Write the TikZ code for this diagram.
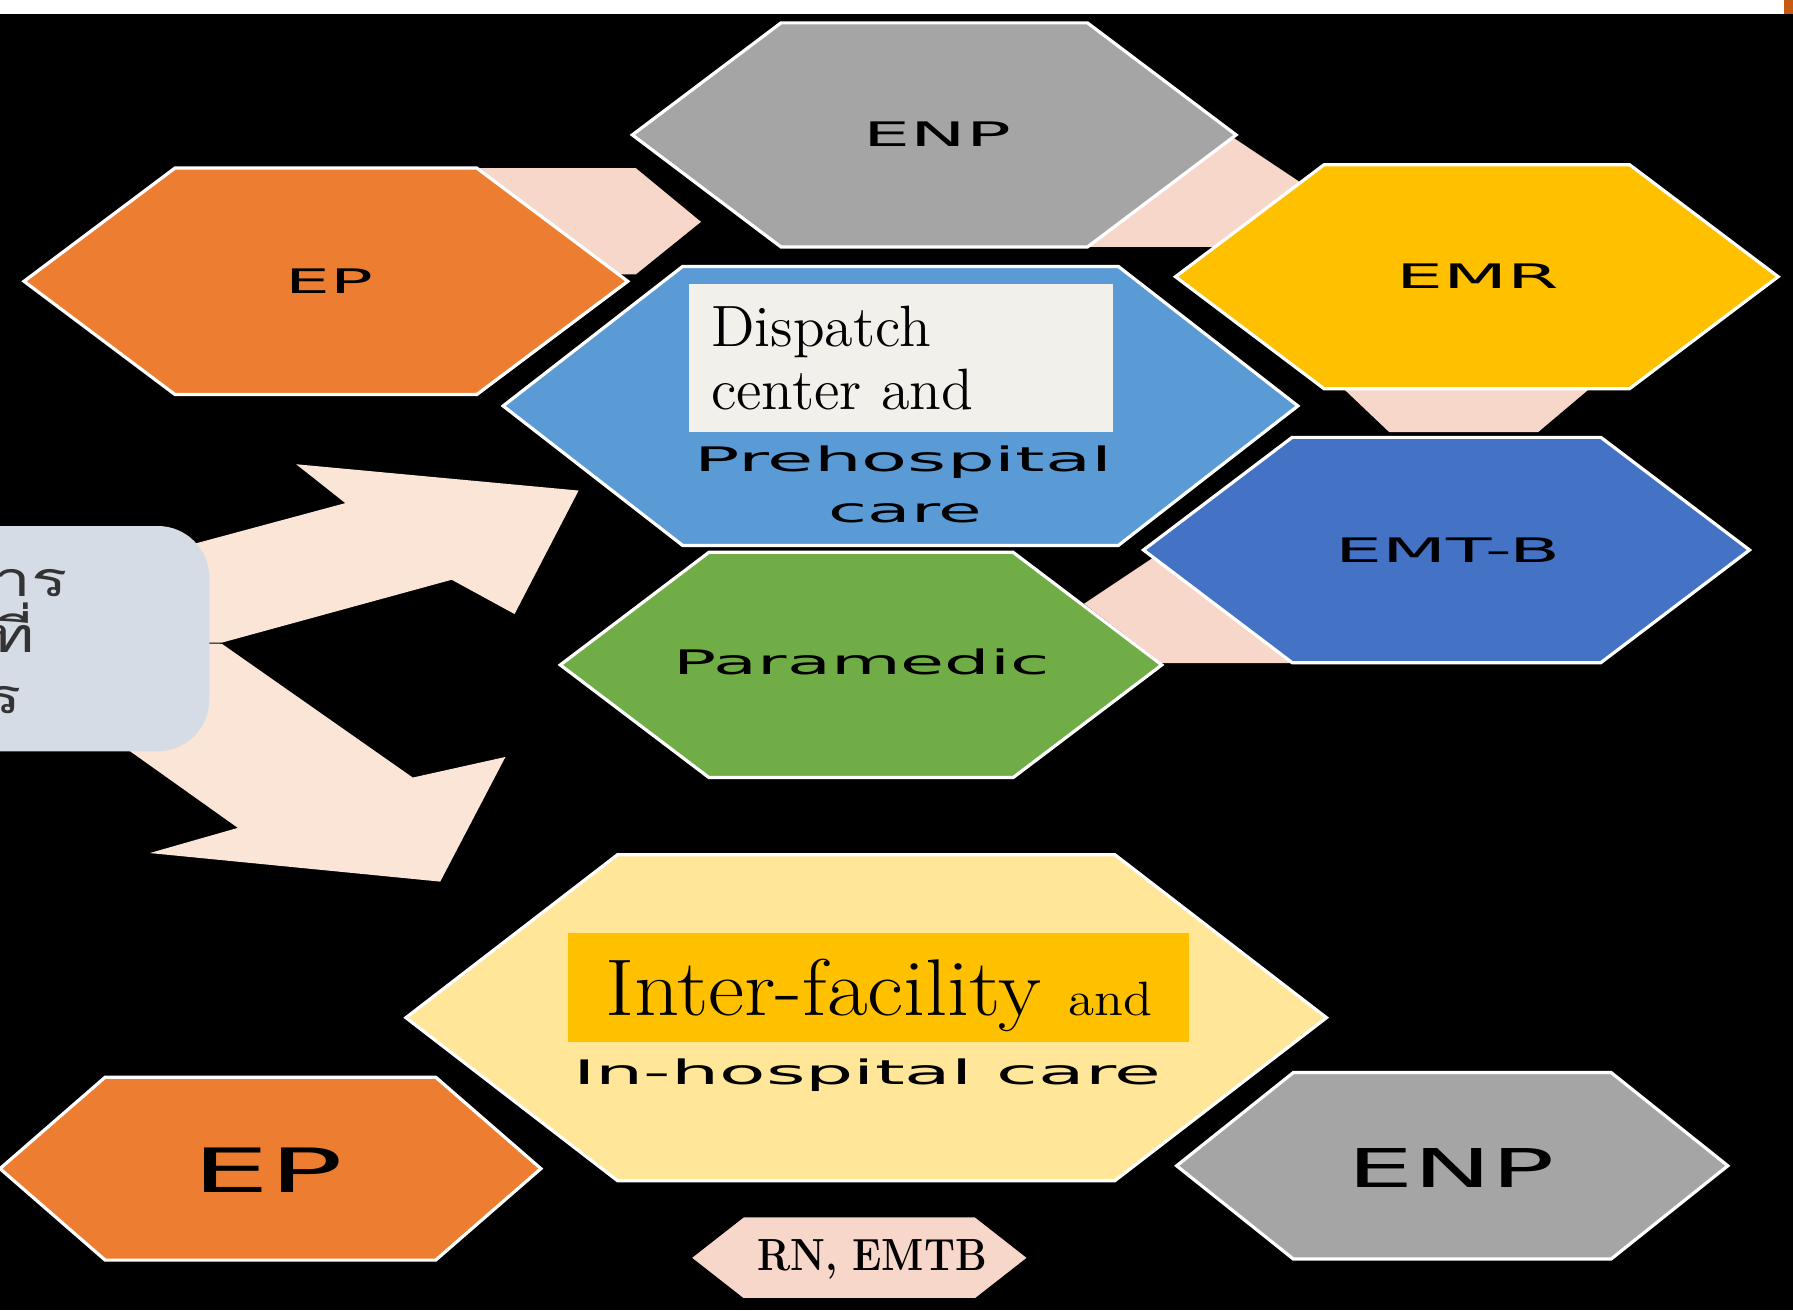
\documentclass[tikz,border=0pt]{standalone}
\usepackage{fontspec}
\usepackage{graphicx}
\newfontfamily\hexfont{DejaVu Sans}
\newfontfamily\thaifont[Script=Thai]{Loma}
\definecolor{hexgray}{HTML}{A5A5A5}
\definecolor{hexorange}{HTML}{ED7D31}
\definecolor{hexgold}{HTML}{FFC000}
\definecolor{hexsky}{HTML}{5B9BD5}
\definecolor{hexblue}{HTML}{4472C4}
\definecolor{hexgreen}{HTML}{70AD47}
\definecolor{hexcream}{HTML}{FFE699}
\definecolor{linkpink}{HTML}{F8D7CB}
\definecolor{arrowpink}{HTML}{FBE5D6}
\definecolor{boxgray}{HTML}{D6DCE5}
\definecolor{paper}{HTML}{F2F0EB}
\definecolor{stripred}{HTML}{C55A11}
% hexagon: style, centre x, centre y, half width, half height, inset
\newcommand{\hexagon}[6]{%
  \filldraw[#1] ({#2-#4},#3) -- ({#2-#4+#6},{#3-#5}) -- ({#2+#4-#6},{#3-#5})
    -- ({#2+#4},#3) -- ({#2+#4-#6},{#3+#5}) -- ({#2-#4+#6},{#3+#5}) -- cycle;}
\newcommand{\widen}[2][2.1]{\scalebox{#1}[1]{#2}}
\begin{document}
\begin{tikzpicture}[x=0.01cm,y=-0.01cm]
  \tikzstyle{hex}=[draw=white,line width=0.8pt]
  \tikzstyle{hexlabel}=[inner sep=0pt,text depth=0pt,text height=6.1pt,
    font=\hexfont\fontsize{8.4}{10}\selectfont]
  \tikzstyle{thailine}=[inner sep=0pt,anchor=base east,text=black!80,
    font=\thaifont\fontsize{12}{14}\selectfont]
  \useasboundingbox (0,0) rectangle (1568,1146);
  \fill[black] (0,0) rectangle (1568,1146);
  \fill[white] (0,0) rectangle (1568,12);
  \fill[stripred] (1560,0) rectangle (1568,12);

  \fill[linkpink] (419,147) -- (556,147) -- (613,194) -- (556,240) -- (530,240) -- cycle;
  \fill[linkpink] (951,216) -- (1078,120) -- (1150,168) -- (1080,216) -- cycle;
  \fill[linkpink] (1175,340) -- (1390,340) -- (1345,378) -- (1215,378) -- cycle;
  \fill[linkpink] (948,528) -- (1008,488) -- (1140,580) -- (1016,580) -- cycle;

  \hexagon{hex,fill=hexgray}{817}{118}{264}{98}{130}
  \hexagon{hex,fill=hexorange}{285}{246}{264}{99}{132}
  \hexagon{hex,fill=hexgold}{1291.5}{242}{263.5}{98}{130}
  \hexagon{hex,fill=hexsky}{787.5}{355}{347.5}{122}{157}
  \hexagon{hex,fill=hexblue}{1265}{481}{265}{98.5}{130}
  \hexagon{hex,fill=hexgreen}{753}{581.5}{263}{98.5}{130}
  \hexagon{hex,fill=hexcream}{757.5}{890}{402.5}{142.5}{185}
  \hexagon{hex,fill=hexorange}{236.5}{1022}{236.5}{80}{92}
  \hexagon{hex,fill=hexgray}{1270}{1019.5}{241}{81.5}{102}
  \hexagon{fill=linkpink}{751.5}{1100}{147.5}{36}{46}

  \node[hexlabel] (enptop) at (820,117.5) {\widen[2.2]{ENP}};
  \node[hexlabel] (eptop) at (288,246) {\widen[2.1]{EP}};
  \node[hexlabel] (emr) at (1292,242) {\widen[2.2]{EMR}};
  \node[hexlabel] (emtb) at (1266,481) {\widen[2.2]{EMT-B}};
  \node[hexlabel] (paramedic) at (753.5,579) {\widen[2.12]{Paramedic}};
  \node[fill=paper,minimum width=3.7cm,minimum height=1.3cm,inner xsep=0.19cm,
    text width=3.32cm,align=left,font=\fontsize{14.5}{15.6}\selectfont]
    (dispatch) at (788,313) {Dispatch\\center and};
  \node[hexlabel] (prehosp) at (790,402) {\widen[2.23]{Prehospital}};
  \node[hexlabel,text height=4.6pt] (care) at (792,449) {\widen[2.1]{care}};
  \node[fill=hexgold,minimum width=5.43cm,minimum height=0.95cm,inner sep=0pt,
    text depth=0pt] (interfac) at (768.5,863.5)
    {\scalebox{1.1}[1]{\fontsize{20}{22}\selectfont Inter-facility
      \fontsize{12}{14}\selectfont and}};
  \node[hexlabel] (inhosp) at (758.5,938) {\widen[2.25]{In-hospital care}};
  \node[hexlabel,text height=11.1pt,font=\hexfont\fontsize{15.2}{18}\selectfont]
    (epbot) at (234,1023.5) {\widen[2.0]{EP}};
  \node[hexlabel,text height=9.7pt,font=\hexfont\fontsize{13.3}{16}\selectfont]
    (enpbot) at (1269,1021) {\widen[1.96]{ENP}};
  \node[inner sep=0pt,text depth=0pt,text height=7.7pt,
    font=\bfseries\fontsize{11.2}{13}\selectfont] (rnemtb) at (762.5,1097.5)
    {\scalebox{0.88}[1]{RN, EMTB}};

  \fill[arrowpink] (120,489) -- (302,440) -- (259,406) -- (506,429) -- (450,537)
    -- (395,507) -- (194,562) -- (120,562) -- cycle;
  \fill[arrowpink] (120,562) -- (194,563) -- (361,680) -- (442,662) -- (385,771)
    -- (131,746) -- (208,724) -- (80,633) -- cycle;
  \fill[boxgray,rounded corners=0.45cm] (-60,460) rectangle (183,657);
  \node[thailine] (thaia) at (60,522) {\scalebox{1.4}[1]{ระบบบริการ}};
  \node[thailine] (thaib) at (31,571) {\scalebox{1.4}[1]{การแพทย์ที่}};
  \node[thailine] (thaic) at (20,624) {\scalebox{1.4}[1]{ผู้ปฏิบัติการ}};
\end{tikzpicture}
\end{document}
